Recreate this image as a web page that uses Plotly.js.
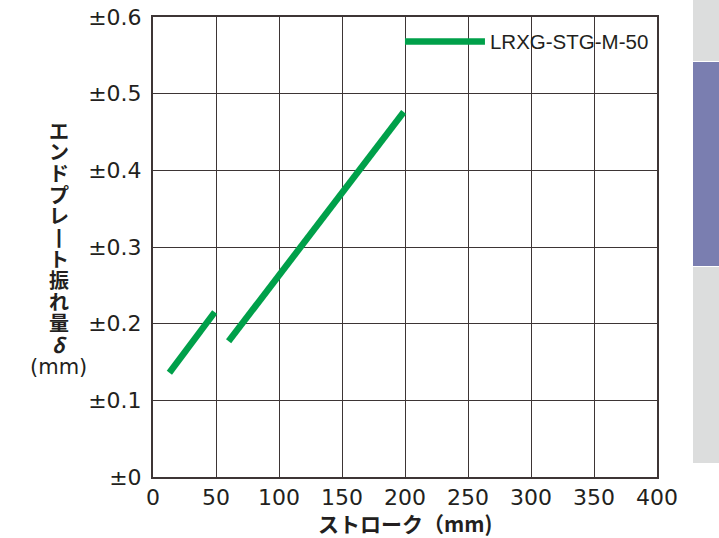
<!DOCTYPE html>
<html>
<head>
<meta charset="utf-8">
<script src="https://cdn.plot.ly/plotly-3.0.1.min.js"></script>
<style>html,body{margin:0;padding:0;background:#fff;}#chart{width:719px;height:538px;}</style>
</head>
<body>
<div id="chart"></div>
<script>
// Data
const seriesName = 'LRXG-STG-M-50';
const strokeA = [13, 49];
const deflectionA = [0.136, 0.215];
const strokeB = [60, 199];
const deflectionB = [0.177, 0.476];
const xTickVals = [0, 50, 100, 150, 200, 250, 300, 350, 400];
const yTickVals = [0, 0.1, 0.2, 0.3, 0.4, 0.5, 0.6];
const yTickText = ['±0', '±0.1', '±0.2', '±0.3', '±0.4', '±0.5', '±0.6'];
const yTitleChars = ['エ', 'ン', 'ド', 'プ', 'レ', '丨', 'ト', '振', 'れ', '量', '<i>δ</i>'];
const xTitle = 'ストローク（mm)';

const green = '#00a04a';
const ink = '#231f20';
const gridCol = '#3d3535';
const jp = '"Noto Sans CJK JP", "Noto Sans", sans-serif';
const latin = '"Liberation Sans", Arial, sans-serif';
const tickFam = '"DejaVu Sans", sans-serif';

const traces = [
  {x: strokeA, y: deflectionA, mode: 'lines', name: seriesName, line: {color: green, width: 6.5}, showlegend: true},
  {x: strokeB, y: deflectionB, mode: 'lines', name: seriesName, line: {color: green, width: 6.5}, showlegend: false}
];

const W = 719, H = 538, L = 153, R = 62, T = 17, B = 61;
const pw = W - L - R, ph = H - T - B;
const px = v => (v - L) / pw;
const py = v => (H - B - v) / ph;

const annotations = yTitleChars.map((c, i) => ({
  xref: 'paper', yref: 'paper', x: px(59), y: py(130 + i * 21.4), xanchor: 'center', yanchor: 'middle',
  height: 21, valign: 'middle',
  showarrow: false, text: '<b>' + c + '</b>', font: {family: jp, size: 20, color: ink}
}));
annotations.push({xref: 'paper', yref: 'paper', x: px(58), y: py(367), xanchor: 'center', yanchor: 'middle', showarrow: false,
  height: 22, valign: 'middle', text: '(mm)', font: {family: tickFam, size: 21, color: ink}});
annotations.push({xref: 'paper', yref: 'paper', x: px(405), y: py(523), xanchor: 'center', yanchor: 'middle', showarrow: false,
  text: '<b>' + xTitle + '</b>', font: {family: jp, size: 21, color: ink}});

const layout = {
  width: W, height: H,
  margin: {l: L, r: R, t: T, b: B, pad: 0},
  paper_bgcolor: '#ffffff', plot_bgcolor: '#ffffff',
  font: {family: latin, color: ink},
  showlegend: true,
  legend: {x: 0.49, y: 0.99, xanchor: 'left', yanchor: 'top', bgcolor: 'rgba(255,255,255,0)',
           font: {family: latin, size: 20.5, color: ink}, itemwidth: 80},
  xaxis: {range: [0, 400], tickvals: xTickVals, showgrid: true, gridcolor: gridCol, gridwidth: 1,
          showline: true, linecolor: gridCol, linewidth: 2, mirror: true, zeroline: false,
          ticks: '', tickfont: {family: tickFam, size: 22, color: ink}},
  yaxis: {range: [0, 0.6], tickvals: yTickVals, ticktext: yTickText, showgrid: true, gridcolor: gridCol, gridwidth: 1,
          showline: true, linecolor: gridCol, linewidth: 2, mirror: true, zeroline: false,
          ticks: '', ticklabelstandoff: 5, tickfont: {family: tickFam, size: 22, color: ink}},
  annotations: annotations,
  shapes: [
    {type: 'rect', xref: 'paper', yref: 'paper', x0: px(693), x1: px(719), y0: py(61), y1: py(0), fillcolor: '#dcdddd', line: {width: 0}, layer: 'below'},
    {type: 'rect', xref: 'paper', yref: 'paper', x0: px(693), x1: px(719), y0: py(266), y1: py(62), fillcolor: '#7a7eb0', line: {width: 0}, layer: 'below'},
    {type: 'rect', xref: 'paper', yref: 'paper', x0: px(693), x1: px(719), y0: py(463), y1: py(267), fillcolor: '#dcdddd', line: {width: 0}, layer: 'below'}
  ]
};

Plotly.newPlot('chart', traces, layout, {displayModeBar: false, staticPlot: true});
</script>
</body>
</html>
